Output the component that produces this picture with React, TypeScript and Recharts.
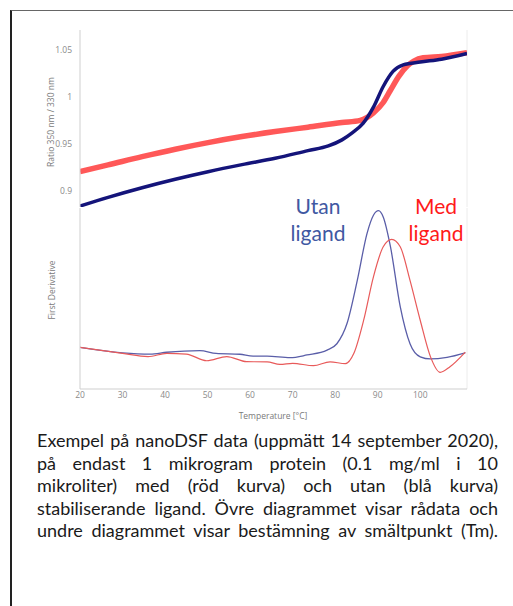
import { LineChart, Line, XAxis, YAxis, ReferenceLine } from 'recharts'

// upper panel: raw ratio 350/330 nm
const redRatioT = [20, 26.6, 34.6, 42.4, 50.1, 58.1, 65.9, 73.6, 81.6, 85.9, 89, 91.3, 93, 95, 97, 98.5, 100.7, 105, 111]
const redRatio = [0.9206, 0.9277, 0.9365, 0.9444, 0.9514, 0.9578, 0.9631, 0.9678, 0.9727, 0.975, 0.983, 0.994, 1.007, 1.022, 1.033, 1.038, 1.0415, 1.043, 1.047]

const blueRatioT = [20, 26.6, 34.6, 42.4, 50.1, 58.1, 65.9, 73.6, 78.4, 81.6, 84, 86.6, 89, 91.3, 93.6, 96, 100, 105, 111]
const blueRatio = [0.884, 0.8933, 0.9035, 0.9125, 0.9205, 0.928, 0.9348, 0.9429, 0.9479, 0.9543, 0.9617, 0.972, 0.989, 1.011, 1.027, 1.034, 1.037, 1.04, 1.046]

// lower panel: first derivative (arbitrary units)
const blueDerivT = [20, 30, 36.5, 40.4, 48.2, 52, 57.6, 60.7, 64, 69.4, 73.4, 78.1, 80.4, 82.8, 85.2, 87.5, 89, 90.2, 91.3, 93, 95.3, 97.6, 100, 102.4, 106.3, 110.6]
const blueDeriv = [23, 20, 19.3, 20.3, 21.2, 19.7, 19.2, 18.2, 18.2, 17.3, 18.8, 21.5, 25, 36.3, 60, 86, 96, 98.5, 95, 78.6, 45.5, 25, 17.8, 16.6, 17.5, 20]

const redDerivT = [20, 30, 36, 40.4, 45, 49.8, 54.5, 59.2, 64, 67, 70, 74.9, 78.8, 82.4, 84.4, 86.7, 89, 91.3, 93.3, 95.3, 97.6, 100, 102.4, 104.7, 107, 110.6]
const redDeriv = [23, 19.7, 17.9, 19.7, 19.3, 15.6, 17.9, 15.1, 15, 13.6, 14.2, 12.9, 15, 14, 19.7, 38, 62, 78.6, 82.7, 78.6, 60, 38, 17.9, 9.2, 12.3, 20.4]

const tempTicks = [20, 30, 40, 50, 60, 70, 80, 90, 100]
const ratioTicks = [0.9, 0.95, 1, 1.05]

const zip = (t: number[], v: number[]) => t.map((x, i) => ({ t: x, v: v[i] }))

const axisFont = { fontSize: 8.5, fill: '#8a8a8a', fontFamily: 'Open Sans' }

const titleStyle: React.CSSProperties = {
  position: 'absolute',
  fontFamily: 'Open Sans',
  fontSize: 8.5,
  color: '#7a7a7a',
  whiteSpace: 'nowrap',
}

const captionLines = [
  'Exempel på nanoDSF data (uppmätt 14 september 2020),',
  'på endast 1 mikrogram protein (0.1 mg/ml i 10',
  'mikroliter) med (röd kurva) och utan (blå kurva)',
  'stabiliserande ligand. Övre diagrammet visar rådata och',
  'undre diagrammet visar bestämning av smältpunkt (Tm).',
]

const bigLabel: React.CSSProperties = {
  position: 'absolute',
  top: 193,
  transform: 'translateX(-50%)',
  textAlign: 'center',
  fontFamily: 'Lato',
  fontSize: 21,
  lineHeight: '26.7px',
}

export default function App() {
  return (
    <div style={{ position: 'absolute', left: 0, top: 0, width: 513, height: 606, overflow: 'hidden', background: '#fff' }}>
      <div
        style={{
          position: 'absolute',
          left: 10,
          top: 10,
          width: 560,
          height: 640,
          borderLeft: '2px solid #222',
          borderTop: '1px solid #666',
        }}
      />

      <div style={{ position: 'absolute', left: 0, top: 0 }}>
        <LineChart width={513} height={215} margin={{ top: 30, right: 46, bottom: 8, left: 0 }}>
          <XAxis dataKey="t" type="number" domain={[20, 111]} allowDataOverflow hide />
          <YAxis
            type="number"
            domain={[0.883, 1.071]}
            ticks={ratioTicks}
            allowDataOverflow
            width={80}
            tick={axisFont}
            tickLine={false}
            axisLine={{ stroke: '#cfcfcf' }}
          />
          <ReferenceLine x={111} stroke="#ececec" />
          <Line
            data={zip(redRatioT, redRatio)}
            dataKey="v"
            type="monotone"
            stroke="#ff2020"
            strokeOpacity={0.75}
            strokeWidth={5.5}
            dot={false}
            isAnimationActive={false}
          />
          <Line
            data={zip(blueRatioT, blueRatio)}
            dataKey="v"
            type="monotone"
            stroke="#14147a"
            strokeWidth={3.5}
            dot={false}
            isAnimationActive={false}
          />
        </LineChart>
      </div>

      <div style={{ position: 'absolute', left: 0, top: 200 }}>
        <LineChart width={513} height={225} margin={{ top: 8, right: 46, bottom: 0, left: 0 }}>
          <XAxis
            dataKey="t"
            type="number"
            domain={[20, 111]}
            ticks={tempTicks}
            allowDataOverflow
            height={36}
            tick={axisFont}
            tickLine={false}
            tickSize={3}
            tickMargin={0}
            axisLine={{ stroke: '#cfcfcf' }}
          />
          <YAxis type="number" domain={[0, 100]} width={80} tick={false} tickLine={false} axisLine={{ stroke: '#cfcfcf' }} />
          <ReferenceLine x={111} stroke="#ececec" />
          <Line
            data={zip(blueDerivT, blueDeriv)}
            dataKey="v"
            type="monotone"
            stroke="#5a5ea8"
            strokeWidth={1.3}
            dot={false}
            isAnimationActive={false}
          />
          <Line
            data={zip(redDerivT, redDeriv)}
            dataKey="v"
            type="monotone"
            stroke="#e85a5a"
            strokeWidth={1.2}
            dot={false}
            isAnimationActive={false}
          />
        </LineChart>
      </div>

      <div style={{ ...titleStyle, left: 50, top: 122, transform: 'translate(-50%, -50%) rotate(-90deg)' }}>
        Ratio 350 nm / 330 nm
      </div>
      <div style={{ ...titleStyle, left: 51, top: 290, transform: 'translate(-50%, -50%) rotate(-90deg)' }}>
        First Derivative
      </div>
      <div style={{ ...titleStyle, left: 273, top: 415, transform: 'translate(-50%, -50%)' }}>Temperature [°C]</div>

      <div style={{ ...bigLabel, left: 318, color: '#4058a2' }}>
        Utan
        <br />
        ligand
      </div>
      <div style={{ ...bigLabel, left: 436, color: '#ff1a1a' }}>
        Med
        <br />
        ligand
      </div>

      <div
        style={{
          position: 'absolute',
          left: 37,
          top: 429,
          width: 461,
          fontFamily: 'Lato',
          fontSize: 18,
          lineHeight: '22.5px',
          color: '#1a1a1a',
        }}
      >
        {captionLines.map((l, i) => (
          <div key={i} style={{ textAlign: 'justify', textAlignLast: 'justify', whiteSpace: 'nowrap' }}>
            {l}
          </div>
        ))}
      </div>
    </div>
  )
}
